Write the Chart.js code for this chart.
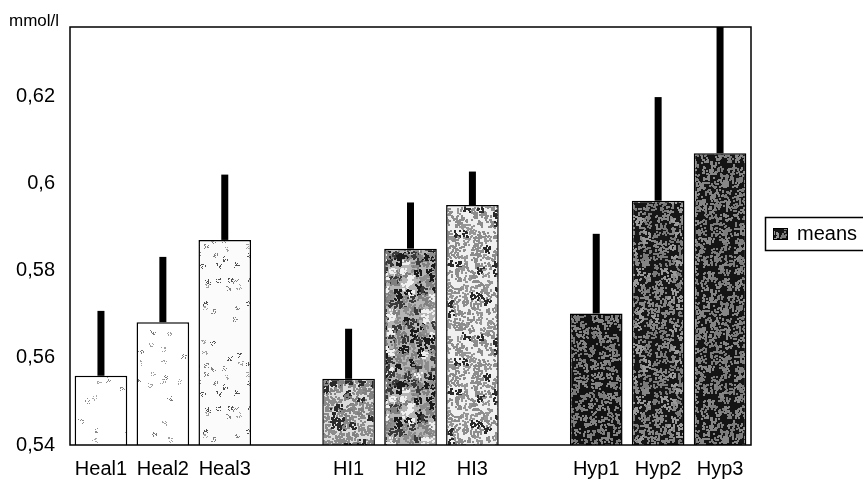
<!DOCTYPE html>
<html>
<head>
<meta charset="utf-8">
<script src="https://cdn.jsdelivr.net/npm/chart.js@4"></script>
<style>
html,body{margin:0;padding:0;background:#fff;}
canvas{display:block;}
</style>
</head>
<body>
<canvas id="c" width="863" height="480"></canvas>
<script>
// ---- data ----
const categories = ['Heal1','Heal2','Heal3','','HI1','HI2','HI3','','Hyp1','Hyp2','Hyp3'];
const means      = [0.5559, 0.5682, 0.5871, null, 0.5552, 0.5851, 0.5951, null, 0.5702, 0.5961, 0.6070];
const upperLimits= [0.5708, 0.5832, 0.6021, null, 0.5667, 0.5957, 0.6028, null, 0.5885, 0.6199, 0.6450];
const yTicks     = [0.54, 0.56, 0.58, 0.60, 0.62];
const yMin = 0.54, yMax = 0.636;
const seriesName = 'means';
const unitLabel = 'mmol/l';

Chart.defaults.font.family = '"Liberation Sans", Arial, sans-serif';
Chart.defaults.color = '#000';

// texture tile: jittered grid of small speckle clusters (style only)
function makePattern(base, colors, spacing, keep, seed, spread, dots, dot) {
  const S = 128;
  const c = document.createElement('canvas'); c.width = S; c.height = S;
  const g = c.getContext('2d');
  g.fillStyle = base; g.fillRect(0, 0, S, S);
  let s = seed;
  const rnd = () => { s = (s * 16807) % 2147483647; return s / 2147483647; };
  for (let gy = 0; gy < S; gy += spacing) {
    for (let gx = 0; gx < S; gx += spacing) {
      const r0 = rnd();
      const cx = gx + (rnd() - 0.5) * spacing * 0.7;
      const cy = gy + (rnd() - 0.5) * spacing * 0.7;
      const col = colors[Math.floor(rnd() * colors.length)];
      if (r0 > keep) continue;
      g.fillStyle = col;
      for (let j = 0; j < dots; j++) {
        const px = Math.round((cx + (rnd() - 0.5) * spread + S) % S);
        const py = Math.round((cy + (rnd() - 0.5) * spread + S) % S);
        for (const ox of [0, -S]) for (const oy of [0, -S]) g.fillRect(px + ox, py + oy, dot, dot);
      }
    }
  }
  return g.createPattern(c, 'repeat');
}

const ctx = document.getElementById('c').getContext('2d');
const patHeal1 = makePattern('#ffffff', ['#8a8a8a','#a8a8a8'], 14, 0.35, 11, 5, 9, 1);
const patHeal2 = makePattern('#ffffff', ['#7a7a7a','#a0a0a0'], 13, 0.5, 23, 5, 10, 1);
const patHeal3 = makePattern('#fbfbfb', ['#808080','#a0a0a0','#505050'], 11, 0.65, 37, 5, 11, 1);
const patHI1   = makePattern('#dcdcdc', ['#808080','#8c8c8c','#8a8a8a','#2a2a2a'], 7, 1.0, 41, 7, 15, 2);
const patHI2   = makePattern('#b4b4b4', ['#808080','#1a1a1a','#8c8c8c','#f0f0f0','#3a3a3a'], 7, 1.0, 53, 7, 15, 2);
const patHI3   = makePattern('#f0f0f0', ['#8c8c8c','#969696','#2a2a2a','#8c8c8c'], 8, 1.0, 67, 7, 13, 2);
const patHyp1  = makePattern('#121212', ['#7a7a7a','#848484'], 8, 1.0, 71, 7, 11, 2);
const patHyp2  = makePattern('#161616', ['#7a7a7a','#868686','#9a9a9a'], 8, 1.0, 83, 7, 12, 2);
const patHyp3  = makePattern('#141414', ['#7c7c7c','#868686'], 8, 1.0, 97, 7, 12, 2);
const barFills = [patHeal1, patHeal2, patHeal3, '#fff', patHI1, patHI2, patHI3, '#fff', patHyp1, patHyp2, patHyp3];

const decor = {
  id: 'decor',
  afterDatasetsDraw(chart) {
    const c = chart.ctx, a = chart.chartArea, y = chart.scales.y;
    const meta = chart.getDatasetMeta(0);
    c.save();
    // frame
    c.strokeStyle = '#000'; c.lineWidth = 1.5;
    c.strokeRect(a.left, a.top, a.right - a.left, a.bottom - a.top);
    // error bars (upper only)
    c.beginPath(); c.rect(a.left, a.top, a.right - a.left, a.bottom - a.top); c.clip();
    c.fillStyle = '#000';
    for (let i = 0; i < means.length; i++) {
      if (means[i] == null || upperLimits[i] == null) continue;
      const x = meta.data[i].x;
      const yt = y.getPixelForValue(upperLimits[i]);
      const ym = y.getPixelForValue(means[i]);
      c.fillRect(x - 3.5, yt, 7, ym - yt);
    }
    c.restore();
  },
  afterDraw(chart) {
    const c = chart.ctx;
    c.save();
    // unit label
    c.fillStyle = '#000';
    c.font = '17px "Liberation Sans", Arial, sans-serif';
    c.textAlign = 'left'; c.textBaseline = 'middle';
    c.fillText(unitLabel, 9, 21);
    // legend
    c.strokeStyle = '#000'; c.lineWidth = 1.5;
    c.strokeRect(765.5, 217.5, 110, 33);
    c.fillStyle = patHyp2;
    c.fillRect(773, 228, 15, 12);
    c.lineWidth = 1; c.strokeRect(773.5, 228.5, 14, 11);
    c.fillStyle = '#000';
    c.font = '20px "Liberation Sans", Arial, sans-serif';
    c.fillText(seriesName, 797, 234);
    c.restore();
  }
};

new Chart(ctx, {
  type: 'bar',
  data: {
    labels: categories,
    datasets: [{
      label: seriesName,
      data: means,
      backgroundColor: barFills,
      borderColor: '#000',
      borderWidth: 1.5,
      borderSkipped: false,
      categoryPercentage: 1.0,
      barPercentage: 0.85
    }]
  },
  options: {
    responsive: false,
    animation: false,
    layout: { padding: { left: 0, right: 112, top: 23, bottom: 0 } },
    plugins: { legend: { display: false }, title: { display: false }, tooltip: { enabled: false } },
    scales: {
      x: {
        grid: { display: false, drawTicks: false },
        border: { display: false },
        ticks: { font: { size: 20 }, padding: 12, maxRotation: 0, autoSkip: false },
        afterFit(s) { s.height = 35; }
      },
      y: {
        min: yMin, max: yMax,
        grid: { display: false, drawTicks: false },
        border: { display: false },
        ticks: {
          font: { size: 20 }, padding: 15,
          callback: v => String(Math.round(v * 100) / 100).replace('.', ',')
        },
        afterBuildTicks(s) { s.ticks = yTicks.map(v => ({ value: v })); },
        afterFit(s) { s.width = 70; }
      }
    }
  },
  plugins: [decor]
});
</script>
</body>
</html>
